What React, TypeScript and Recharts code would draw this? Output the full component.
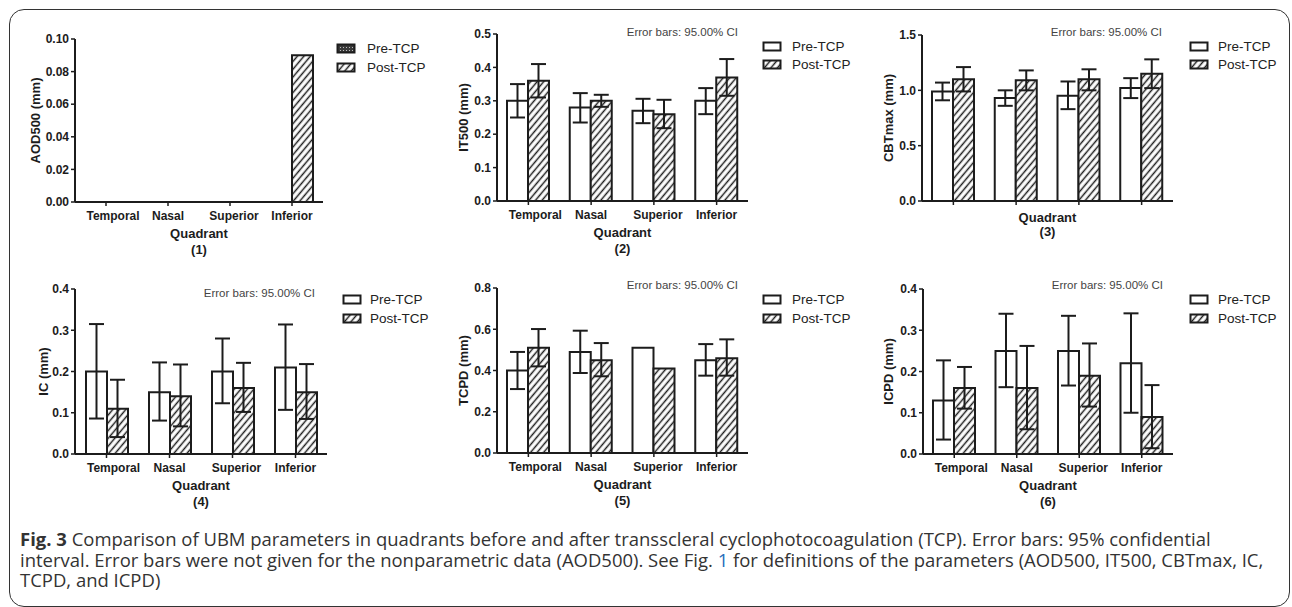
import React from 'react';
import { BarChart, Bar, XAxis, YAxis, ErrorBar } from 'recharts';

// ---------- data ----------
const categories = ['Temporal', 'Nasal', 'Superior', 'Inferior'];
const seriesNames = ['Pre-TCP', 'Post-TCP'];
const noteText = 'Error bars: 95.00% CI';

const aodPre = [0, 0, 0, 0];
const aodPost = [0, 0, 0, 0.09];

const it500Pre = [0.3, 0.28, 0.27, 0.3];
const it500PreLo = [0.25, 0.235, 0.233, 0.26];
const it500PreHi = [0.35, 0.323, 0.306, 0.338];
const it500Post = [0.36, 0.3, 0.26, 0.37];
const it500PostLo = [0.31, 0.282, 0.218, 0.315];
const it500PostHi = [0.41, 0.318, 0.303, 0.425];

const cbtPre = [0.99, 0.93, 0.95, 1.02];
const cbtPreLo = [0.91, 0.86, 0.83, 0.93];
const cbtPreHi = [1.07, 1.0, 1.08, 1.11];
const cbtPost = [1.1, 1.09, 1.1, 1.15];
const cbtPostLo = [0.99, 1.0, 1.0, 1.02];
const cbtPostHi = [1.21, 1.18, 1.19, 1.28];

const icPre = [0.2, 0.15, 0.2, 0.21];
const icPreLo = [0.086, 0.081, 0.123, 0.107];
const icPreHi = [0.315, 0.222, 0.28, 0.314];
const icPost = [0.11, 0.14, 0.16, 0.15];
const icPostLo = [0.041, 0.067, 0.102, 0.085];
const icPostHi = [0.18, 0.217, 0.221, 0.218];

const tcpdPre = [0.4, 0.49, 0.51, 0.45];
const tcpdPreLo = [0.31, 0.388, null, 0.375];
const tcpdPreHi = [0.49, 0.593, null, 0.528];
const tcpdPost = [0.51, 0.45, 0.41, 0.46];
const tcpdPostLo = [0.42, 0.372, null, 0.375];
const tcpdPostHi = [0.601, 0.533, null, 0.551];

const icpdPre = [0.13, 0.25, 0.25, 0.22];
const icpdPreLo = [0.035, 0.162, 0.166, 0.1];
const icpdPreHi = [0.227, 0.34, 0.335, 0.341];
const icpdPost = [0.16, 0.16, 0.19, 0.09];
const icpdPostLo = [0.11, 0.06, 0.115, 0.014];
const icpdPostHi = [0.211, 0.262, 0.268, 0.167];

const aodTicks = [0, 0.02, 0.04, 0.06, 0.08, 0.1];
const it500Ticks = [0, 0.1, 0.2, 0.3, 0.4, 0.5];
const cbtTicks = [0, 0.5, 1.0, 1.5];
const icTicks = [0, 0.1, 0.2, 0.3, 0.4];
const tcpdTicks = [0, 0.2, 0.4, 0.6, 0.8];
const icpdTicks = [0, 0.1, 0.2, 0.3, 0.4];

// ---------- styling ----------
const FONT = "Arial, 'Liberation Sans', Helvetica, sans-serif";
const INK = '#1c1c1c';
const catOffsets: Record<string, number> = { Temporal: 7, Nasal: 0, Superior: 4, Inferior: 0 };

type Arr = (number | null)[] | undefined;

function buildRows(pre: number[], post: number[], preLo?: Arr, preHi?: Arr, postLo?: Arr, postHi?: Arr) {
  return categories.map((name, i) => {
    const pl = preLo ? preLo[i] : null;
    const ph = preHi ? preHi[i] : null;
    const ql = postLo ? postLo[i] : null;
    const qh = postHi ? postHi[i] : null;
    return {
      name,
      pre: pre[i],
      post: post[i],
      preErr: pl != null && ph != null ? [pre[i] - pl, ph - pre[i]] : null,
      postErr: ql != null && qh != null ? [post[i] - ql, qh - post[i]] : null,
    };
  });
}

type PanelCfg = {
  left: number; top: number; width: number; height: number;
  ticks: number[]; digits: number; yLabel: string; yGap: number; num: number;
  showCats: boolean; rows: any[]; preFill: string; errors: boolean;
  note: { right: number; cy: number } | null;
  legend: { iconX: number; textX: number; cy1: number; cy2: number };
};

const panels: PanelCfg[] = [
  {
    left: 75, top: 39, width: 248, height: 163, ticks: aodTicks, digits: 2, yLabel: 'AOD500 (mm)', yGap: 40, num: 1,
    showCats: true, rows: buildRows(aodPre, aodPost), preFill: 'url(#dots)', errors: false, note: null,
    legend: { iconX: 337, textX: 367, cy1: 49, cy2: 68 },
  },
  {
    left: 497, top: 34, width: 251, height: 167, ticks: it500Ticks, digits: 1, yLabel: 'IT500 (mm)', yGap: 34, num: 2,
    showCats: true, rows: buildRows(it500Pre, it500Post, it500PreLo, it500PreHi, it500PostLo, it500PostHi),
    preFill: '#fff', errors: true, note: { right: 738, cy: 32 },
    legend: { iconX: 763, textX: 792, cy1: 46.5, cy2: 65 },
  },
  {
    left: 922, top: 35, width: 251, height: 166, ticks: cbtTicks, digits: 1, yLabel: 'CBTmax (mm)', yGap: 34, num: 3,
    showCats: false, rows: buildRows(cbtPre, cbtPost, cbtPreLo, cbtPreHi, cbtPostLo, cbtPostHi),
    preFill: '#fff', errors: true, note: { right: 1162, cy: 31.5 },
    legend: { iconX: 1190, textX: 1218, cy1: 46.5, cy2: 65 },
  },
  {
    left: 75, top: 289, width: 252, height: 165, ticks: icTicks, digits: 1, yLabel: 'IC (mm)', yGap: 32, num: 4,
    showCats: true, rows: buildRows(icPre, icPost, icPreLo, icPreHi, icPostLo, icPostHi),
    preFill: '#fff', errors: true, note: { right: 315, cy: 293 },
    legend: { iconX: 343, textX: 370, cy1: 300, cy2: 319 },
  },
  {
    left: 497, top: 288, width: 251, height: 165, ticks: tcpdTicks, digits: 1, yLabel: 'TCPD (mm)', yGap: 34, num: 5,
    showCats: true, rows: buildRows(tcpdPre, tcpdPost, tcpdPreLo, tcpdPreHi, tcpdPostLo, tcpdPostHi),
    preFill: '#fff', errors: true, note: { right: 738, cy: 284.5 },
    legend: { iconX: 763, textX: 792, cy1: 299.5, cy2: 318.5 },
  },
  {
    left: 923, top: 289, width: 250, height: 165, ticks: icpdTicks, digits: 1, yLabel: 'ICPD (mm)', yGap: 35, num: 6,
    showCats: true, rows: buildRows(icpdPre, icpdPost, icpdPreLo, icpdPreHi, icpdPostLo, icpdPostHi),
    preFill: '#fff', errors: true, note: { right: 1163, cy: 284.5 },
    legend: { iconX: 1190, textX: 1218, cy1: 300, cy2: 318.5 },
  },
];

const YW = 60;
const MT = 8;
const MR = 6;
const XH = 62;

const makeCatTick = (show: boolean) => (props: any) => {
  const { x, y, payload } = props;
  if (!show) return <g />;
  return (
    <text x={x + (catOffsets[payload.value] || 0)} y={y} dy="0.71em" textAnchor="middle"
      fontSize={12} fontWeight={700} fill={INK} fontFamily={FONT}>{payload.value}</text>
  );
};

const makeXLabel = (num: number, showCats: boolean) => (props: any) => {
  const vb = props.viewBox || { x: 0, y: 0, width: 0 };
  const cx = vb.x + vb.width / 2;
  const q = showCats ? 36 : 21;
  const n = showCats ? 52 : 35;
  return (
    <g>
      <text x={cx} y={vb.y + q} textAnchor="middle" fontSize={13} fontWeight={700} fill={INK} fontFamily={FONT}>Quadrant</text>
      <text x={cx} y={vb.y + n} textAnchor="middle" fontSize={13} fontWeight={700} fill={INK} fontFamily={FONT}>({num})</text>
    </g>
  );
};

const makeYLabel = (label: string, gap: number) => (props: any) => {
  const vb = props.viewBox || { x: 0, y: 0, width: 0, height: 0 };
  const cx = vb.x + vb.width - gap;
  const cy = vb.y + vb.height / 2;
  return (
    <text x={cx} y={cy} transform={`rotate(-90 ${cx} ${cy})`} textAnchor="middle" dominantBaseline="central"
      fontSize={13} fontWeight={700} fill={INK} fontFamily={FONT}>{label}</text>
  );
};

function LegendRow({ x, tx, cy, fill, text }: { x: number; tx: number; cy: number; fill: string; text: string }) {
  return (
    <>
      <svg width={21} height={12} style={{ position: 'absolute', left: x - 1, top: cy - 6 }}>
        <rect x={1.5} y={1.5} width={17} height={8} fill={fill} stroke={INK} strokeWidth={2} />
      </svg>
      <div style={{ position: 'absolute', left: tx, top: cy - 8, fontFamily: FONT, fontSize: 13.5, lineHeight: '16px', color: '#222', whiteSpace: 'nowrap' }}>
        {text}
      </div>
    </>
  );
}

function Panel({ p }: { p: PanelCfg }) {
  const yMax = p.ticks[p.ticks.length - 1];
  return (
    <>
      <div style={{ position: 'absolute', left: p.left - YW, top: p.top - MT }}>
        <BarChart width={YW + p.width + MR} height={MT + p.height + XH} data={p.rows}
          margin={{ top: MT, right: MR, left: 0, bottom: 0 }} barGap={0} barSize={21}>
          <XAxis dataKey="name" height={XH} tickSize={4} tickMargin={5} interval={0}
            axisLine={{ stroke: INK, strokeWidth: 2 }} tickLine={{ stroke: INK, strokeWidth: 1.5 }}
            tick={makeCatTick(p.showCats)} label={makeXLabel(p.num, p.showCats)} />
          <YAxis width={YW} domain={[0, yMax]} ticks={p.ticks} interval={0} tickSize={4}
            tickFormatter={(v: number) => v.toFixed(p.digits)}
            axisLine={{ stroke: INK, strokeWidth: 2 }} tickLine={{ stroke: INK, strokeWidth: 1.5 }}
            tick={{ fontSize: 12, fontWeight: 700, fill: INK, fontFamily: FONT }}
            label={makeYLabel(p.yLabel, p.yGap)} />
          <Bar dataKey="pre" name={seriesNames[0]} fill={p.preFill} stroke={INK} strokeWidth={2} isAnimationActive={false}>
            {p.errors ? <ErrorBar dataKey="preErr" direction="y" width={7.5} stroke={INK} strokeWidth={2} /> : null}
          </Bar>
          <Bar dataKey="post" name={seriesNames[1]} fill="url(#hatch)" stroke={INK} strokeWidth={2} isAnimationActive={false}>
            {p.errors ? <ErrorBar dataKey="postErr" direction="y" width={7.5} stroke={INK} strokeWidth={2} /> : null}
          </Bar>
        </BarChart>
      </div>
      {p.note ? (
        <div style={{ position: 'absolute', right: 1292 - p.note.right, top: p.note.cy - 7, fontFamily: FONT, fontSize: 11.5, lineHeight: '14px', color: '#444', whiteSpace: 'nowrap' }}>
          {noteText}
        </div>
      ) : null}
      <LegendRow x={p.legend.iconX} tx={p.legend.textX} cy={p.legend.cy1} fill={p.preFill} text={seriesNames[0]} />
      <LegendRow x={p.legend.iconX} tx={p.legend.textX} cy={p.legend.cy2} fill="url(#hatch)" text={seriesNames[1]} />
    </>
  );
}

export default function App() {
  return (
    <div style={{ position: 'absolute', left: 0, top: 0, width: 1292, height: 607, background: '#fff', overflow: 'hidden' }}>
      <svg width={0} height={0} style={{ position: 'absolute' }}>
        <defs>
          <pattern id="hatch" patternUnits="userSpaceOnUse" width={5} height={5} patternTransform="rotate(40)">
            <rect width={5} height={5} fill="#fff" />
            <line x1={2.5} y1={0} x2={2.5} y2={5} stroke={INK} strokeWidth={1.5} />
          </pattern>
          <pattern id="dots" patternUnits="userSpaceOnUse" width={3} height={3}>
            <rect width={3} height={3} fill="#3a3a3a" />
            <rect x={1} y={1} width={1} height={1} fill="#bdbdbd" />
          </pattern>
        </defs>
      </svg>
      <div style={{ position: 'absolute', left: 9, top: 9, width: 1281, height: 598, border: '1.5px solid #333', borderRadius: 15, boxSizing: 'border-box' }} />
      {panels.map((p) => <Panel key={p.num} p={p} />)}
      <div style={{ position: 'absolute', left: 20, top: 529, fontFamily: "'Open Sans', 'Noto Sans', sans-serif", fontSize: 18.48, lineHeight: '20.5px', color: '#333', whiteSpace: 'nowrap' }}>
        <div><b>Fig. 3</b> Comparison of UBM parameters in quadrants before and after transscleral cyclophotocoagulation (TCP). Error bars: 95% confidential</div>
        <div>interval. Error bars were not given for the nonparametric data (AOD500). See Fig. <span style={{ color: '#2a6ebb' }}>1</span> for definitions of the parameters (AOD500, IT500, CBTmax, IC,</div>
        <div>TCPD, and ICPD)</div>
      </div>
    </div>
  );
}
